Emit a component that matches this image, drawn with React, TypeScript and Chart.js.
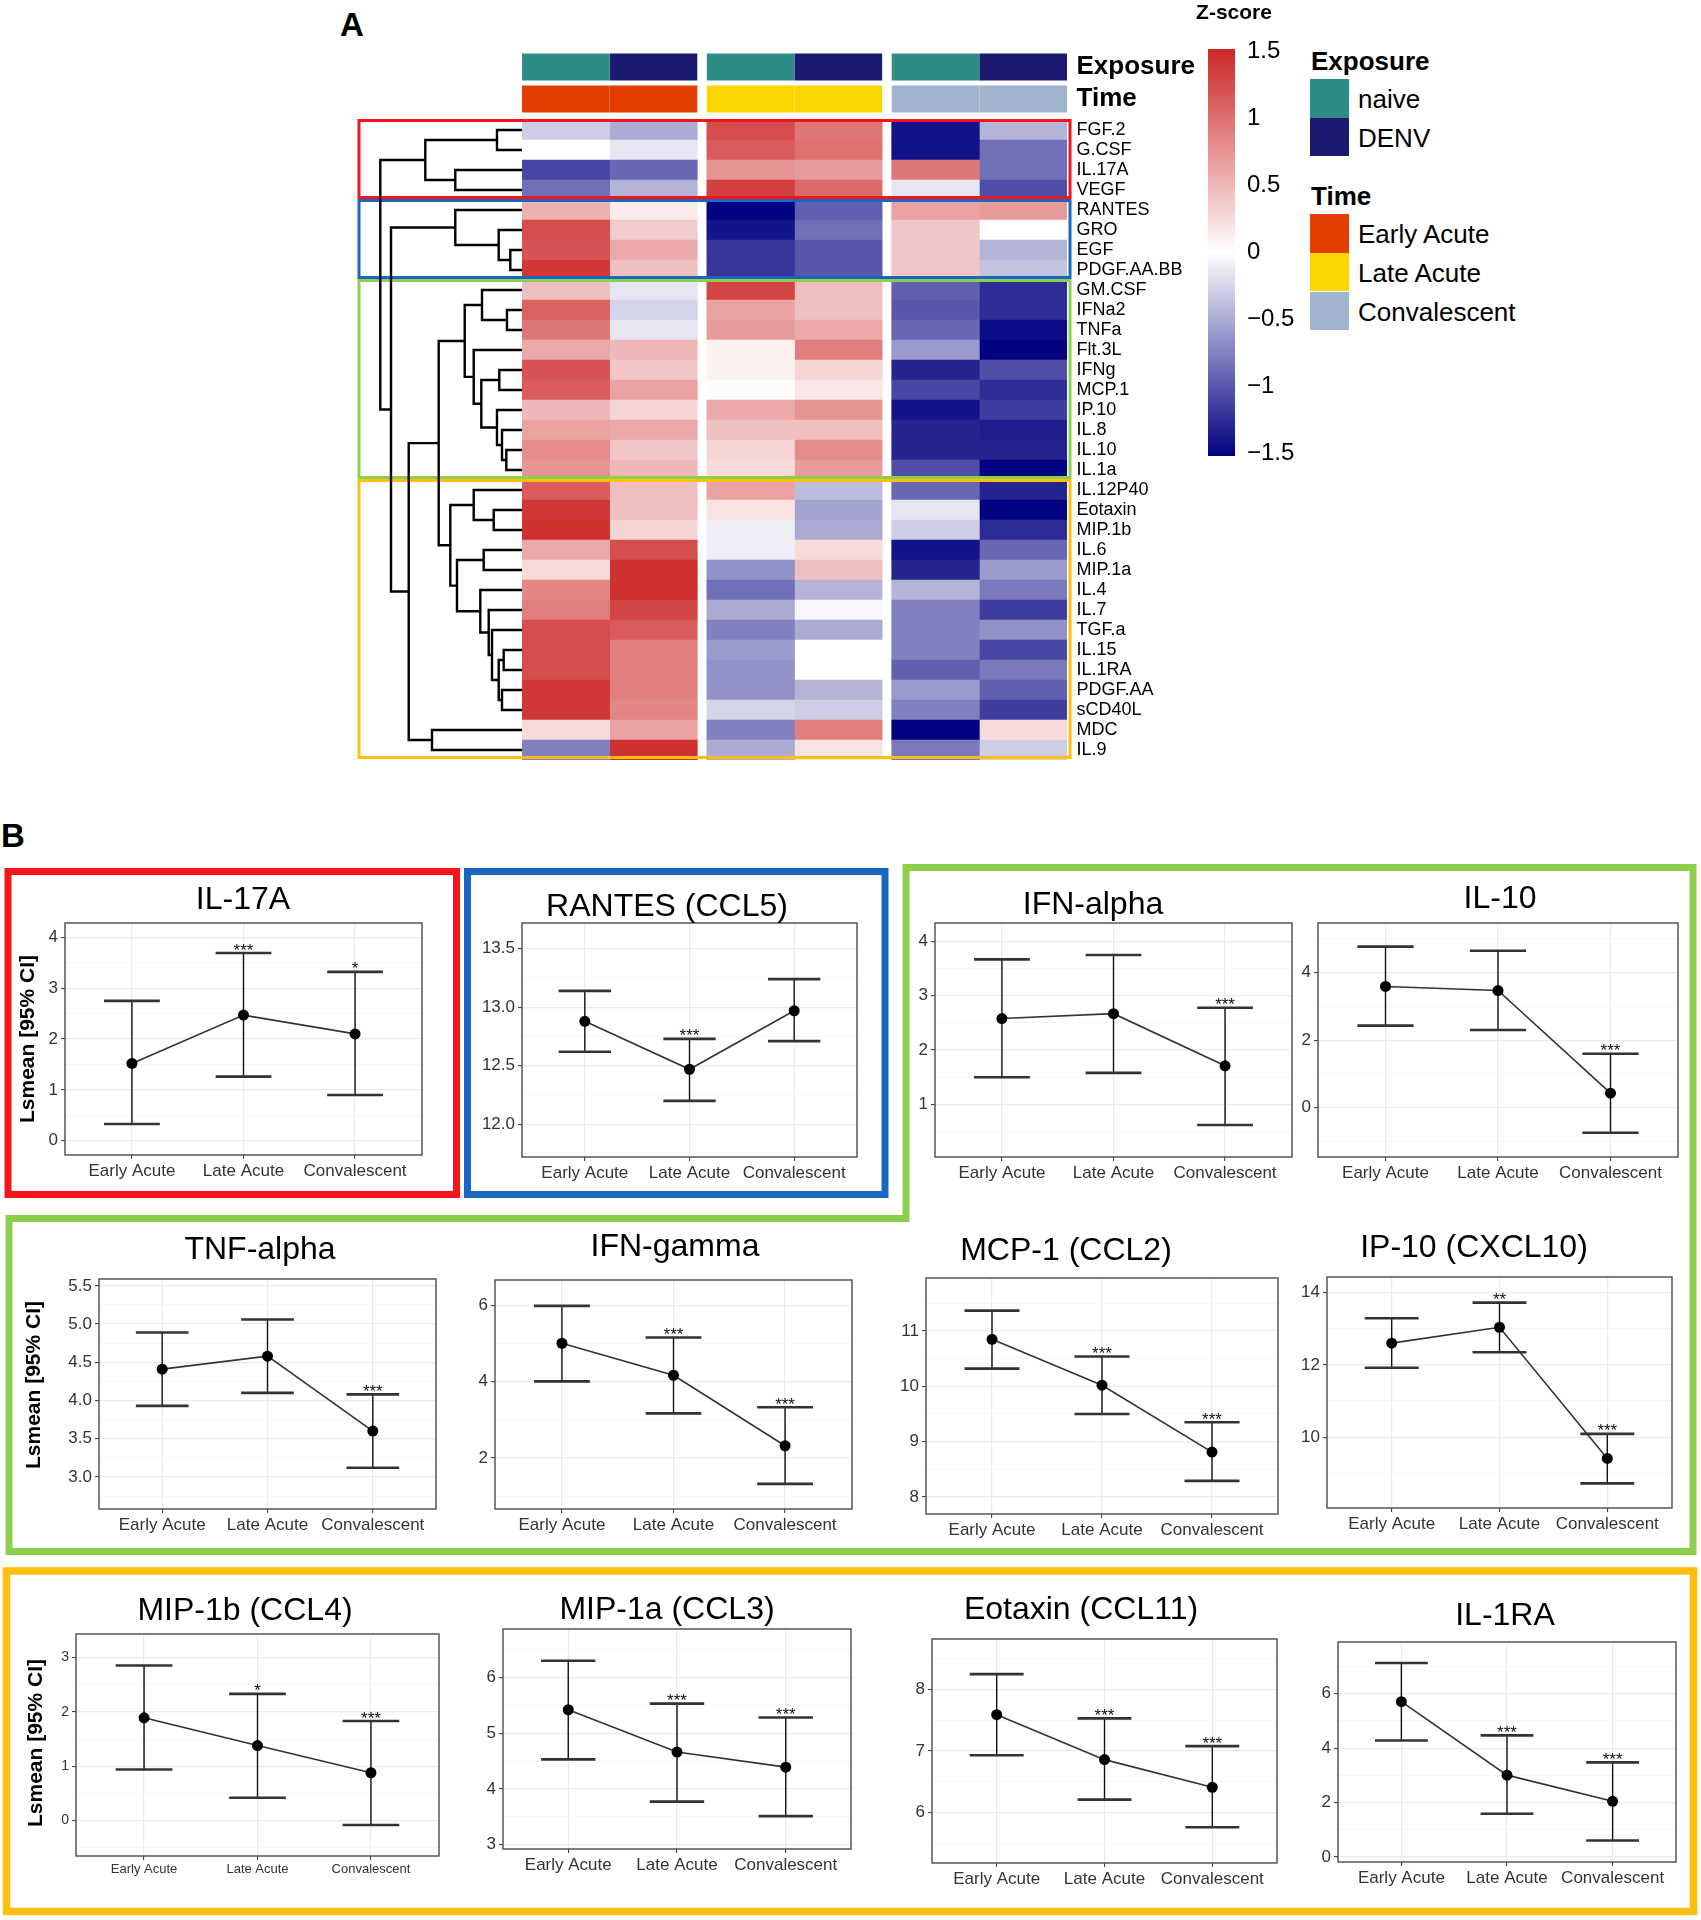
import React, { useEffect, useRef } from "react";
import { Chart, registerables } from "chart.js";
Chart.register(...registerables);

const FONT = "'Liberation Sans', Arial, sans-serif";
Chart.defaults.font.family = FONT;

// ---------------- Panel A data ----------------
const CYTOKINES = ["FGF.2", "G.CSF", "IL.17A", "VEGF", "RANTES", "GRO", "EGF", "PDGF.AA.BB", "GM.CSF", "IFNa2", "TNFa", "Flt.3L", "IFNg", "MCP.1", "IP.10", "IL.8", "IL.10", "IL.1a", "IL.12P40", "Eotaxin", "MIP.1b", "IL.6", "MIP.1a", "IL.4", "IL.7", "TGF.a", "IL.15", "IL.1RA", "PDGF.AA", "sCD40L", "MDC", "IL.9"];

const Z_EARLY_NAIVE = [-0.3, 0.0, -1.1, -0.85, 0.55, 1.25, 1.2, 1.4, 0.45, 1.1, 0.95, 0.6, 1.2, 1.15, 0.5, 0.65, 0.8, 0.75, 1.15, 1.4, 1.45, 0.6, 0.25, 0.85, 0.9, 1.25, 1.25, 1.25, 1.4, 1.4, 0.25, -0.75];
const Z_EARLY_DENV = [-0.5, -0.15, -0.9, -0.45, 0.15, 0.35, 0.6, 0.45, -0.15, -0.25, -0.15, 0.5, 0.4, 0.65, 0.3, 0.6, 0.4, 0.5, 0.45, 0.45, 0.3, 1.25, 1.45, 1.45, 1.3, 1.15, 0.9, 0.9, 0.9, 0.85, 0.65, 1.45];
const Z_LATE_NAIVE = [1.25, 1.15, 0.75, 1.35, -1.5, -1.4, -1.2, -1.2, 1.3, 0.65, 0.7, 0.1, 0.1, 0.03, 0.6, 0.45, 0.3, 0.25, 0.65, 0.2, -0.1, -0.1, -0.65, -0.85, -0.5, -0.75, -0.6, -0.65, -0.65, -0.25, -0.75, -0.5];
const Z_LATE_DENV = [0.95, 1.0, 0.7, 1.05, -0.95, -0.85, -1.0, -1.0, 0.45, 0.45, 0.6, 0.9, 0.3, 0.18, 0.75, 0.45, 0.8, 0.7, -0.4, -0.55, -0.5, 0.25, 0.45, -0.45, -0.05, -0.5, 0.0, 0.0, -0.45, -0.3, 0.9, 0.2];
const Z_CONV_NAIVE = [-1.4, -1.4, 0.95, -0.15, 0.65, 0.4, 0.4, 0.4, -0.95, -1.0, -0.9, -0.6, -1.3, -1.1, -1.4, -1.3, -1.3, -1.05, -0.9, -0.15, -0.3, -1.4, -1.3, -0.45, -0.75, -0.75, -0.75, -0.95, -0.6, -0.75, -1.5, -0.8];
const Z_CONV_DENV = [-0.45, -0.85, -0.85, -1.05, 0.7, 0.0, -0.45, -0.35, -1.25, -1.25, -1.45, -1.5, -1.05, -1.25, -1.15, -1.35, -1.3, -1.5, -1.3, -1.5, -1.25, -0.9, -0.6, -0.8, -1.15, -0.65, -1.1, -0.8, -0.95, -1.15, 0.25, -0.3];
const Z_COLUMNS = [Z_EARLY_NAIVE, Z_EARLY_DENV, Z_LATE_NAIVE, Z_LATE_DENV, Z_CONV_NAIVE, Z_CONV_DENV];

const COLUMN_EXPOSURE = ["naive", "DENV", "naive", "DENV", "naive", "DENV"];
const COLUMN_TIME = ["Early Acute", "Early Acute", "Late Acute", "Late Acute", "Convalescent", "Convalescent"];
const EXPOSURE_LEVELS = ["naive", "DENV"];
const TIME_LEVELS = ["Early Acute", "Late Acute", "Convalescent"];
const COLORBAR_TICKS = [1.5, 1, 0.5, 0, -0.5, -1, -1.5];

// dendrogram (leaf indices, merge height)
const TREE_RED = [[0, 1, 2.5], [2, 3, 6.67], 9.67];
const TREE_BLUE = [4, [5, [6, 7, 1.17], 2.33], 6.67];
const TREE_GREEN = [[8, [9, 10, 1.5], 4.0], [11, [[12, 13, 2.27], [14, [15, [16, 17, 1.57], 2.0], 2.5], 4.07], 4.83], 5.73];
const TREE_ORANGE = [[18, [19, 20, 2.83], 4.83], [[21, 22, 3.83], [23, [24, [25, [[26, 27, 1.83], [28, 29, 2.0], 2.33], 3.0], 3.33], 4.17], 6.5], 7.17];
const TREE_ROOT = [TREE_RED, [TREE_BLUE, [[TREE_GREEN, TREE_ORANGE, 8.33], [30, 31, 9.0], 11.33], 13.1], 14.17];

const CLUSTER_RED = "#F5141C";
const CLUSTER_BLUE = "#1A67C2";
const CLUSTER_GREEN = "#8CCF4C";
const CLUSTER_ORANGE = "#FFBF0F";
const CLUSTERS = [
  { from: 0, to: 3, color: CLUSTER_RED },
  { from: 4, to: 7, color: CLUSTER_BLUE },
  { from: 8, to: 17, color: CLUSTER_GREEN },
  { from: 18, to: 31, color: CLUSTER_ORANGE },
];

const EXPOSURE_COLORS: Record<string, string> = { naive: "#2E8B86", DENV: "#1A1A6E" };
const TIME_COLORS: Record<string, string> = { "Early Acute": "#E43D00", "Late Acute": "#FBD600", Convalescent: "#A2B4CD" };

// ---------------- Panel B data ----------------
const TIME_LABELS = ["Early Acute", "Late Acute", "Convalescent"];

const IL17A_MEAN = [1.52, 2.47, 2.1];
const IL17A_LO = [0.33, 1.26, 0.9];
const IL17A_HI = [2.75, 3.69, 3.32];
const IL17A_SIG = ["", "***", "*"];
const IL17A_TICKS = [0, 1, 2, 3, 4];

const RANTES_MEAN = [12.88, 12.47, 12.97];
const RANTES_LO = [12.62, 12.2, 12.71];
const RANTES_HI = [13.14, 12.73, 13.24];
const RANTES_SIG = ["", "***", ""];
const RANTES_TICKS = [12.0, 12.5, 13.0, 13.5];

const IFNA_MEAN = [2.58, 2.67, 1.71];
const IFNA_LO = [1.5, 1.58, 0.62];
const IFNA_HI = [3.67, 3.75, 2.78];
const IFNA_SIG = ["", "", "***"];
const IFNA_TICKS = [1, 2, 3, 4];

const IL10_MEAN = [3.59, 3.47, 0.43];
const IL10_LO = [2.43, 2.3, -0.74];
const IL10_HI = [4.77, 4.65, 1.6];
const IL10_SIG = ["", "", "***"];
const IL10_TICKS = [0, 2, 4];

const TNFA_MEAN = [4.41, 4.58, 3.6];
const TNFA_LO = [3.93, 4.1, 3.12];
const TNFA_HI = [4.89, 5.06, 4.08];
const TNFA_SIG = ["", "", "***"];
const TNFA_TICKS = [3.0, 3.5, 4.0, 4.5, 5.0, 5.5];

const IFNG_MEAN = [5.01, 4.17, 2.32];
const IFNG_LO = [4.01, 3.17, 1.32];
const IFNG_HI = [5.99, 5.16, 3.33];
const IFNG_SIG = ["", "***", "***"];
const IFNG_TICKS = [2, 4, 6];

const MCP1_MEAN = [10.85, 10.02, 8.81];
const MCP1_LO = [10.32, 9.5, 8.29];
const MCP1_HI = [11.37, 10.54, 9.35];
const MCP1_SIG = ["", "***", "***"];
const MCP1_TICKS = [8, 9, 10, 11];

const IP10_MEAN = [12.6, 13.04, 9.41];
const IP10_LO = [11.92, 12.35, 8.72];
const IP10_HI = [13.29, 13.72, 10.09];
const IP10_SIG = ["", "**", "***"];
const IP10_TICKS = [10, 12, 14];

const MIP1B_MEAN = [1.89, 1.38, 0.88];
const MIP1B_LO = [0.94, 0.42, -0.08];
const MIP1B_HI = [2.85, 2.33, 1.83];
const MIP1B_SIG = ["", "*", "***"];
const MIP1B_TICKS = [0, 1, 2, 3];

const MIP1A_MEAN = [5.42, 4.66, 4.39];
const MIP1A_LO = [4.53, 3.77, 3.51];
const MIP1A_HI = [6.3, 5.53, 5.28];
const MIP1A_SIG = ["", "***", "***"];
const MIP1A_TICKS = [3, 4, 5, 6];

const EOTAXIN_MEAN = [7.59, 6.86, 6.41];
const EOTAXIN_LO = [6.93, 6.21, 5.76];
const EOTAXIN_HI = [8.25, 7.53, 7.08];
const EOTAXIN_SIG = ["", "***", "***"];
const EOTAXIN_TICKS = [6, 7, 8];

const IL1RA_MEAN = [5.71, 3.01, 2.05];
const IL1RA_LO = [4.28, 1.59, 0.61];
const IL1RA_HI = [7.13, 4.47, 3.48];
const IL1RA_SIG = ["", "***", "***"];
const IL1RA_TICKS = [0, 2, 4, 6];

type PanelCfg = {
  title: string; tx: number; tb: number;
  x0: number; x1: number; y0: number; y1: number;
  yMin: number; yMax: number; ticks: number[]; dec: number;
  mean: number[]; lo: number[]; hi: number[]; sig: string[];
  xFont: number; yFont: number;
};

const PANELS: PanelCfg[] = [
  { title: "IL-17A", tx: 243, tb: 909, x0: 65, x1: 422, y0: 923, y1: 1155, yMin: -0.28, yMax: 4.28, ticks: IL17A_TICKS, dec: 0, mean: IL17A_MEAN, lo: IL17A_LO, hi: IL17A_HI, sig: IL17A_SIG, xFont: 17, yFont: 17 },
  { title: "RANTES (CCL5)", tx: 667, tb: 916, x0: 522, x1: 857, y0: 923, y1: 1157, yMin: 11.72, yMax: 13.72, ticks: RANTES_TICKS, dec: 1, mean: RANTES_MEAN, lo: RANTES_LO, hi: RANTES_HI, sig: RANTES_SIG, xFont: 17, yFont: 17 },
  { title: "IFN-alpha", tx: 1093, tb: 914, x0: 935, x1: 1292, y0: 923, y1: 1157, yMin: 0.03, yMax: 4.34, ticks: IFNA_TICKS, dec: 0, mean: IFNA_MEAN, lo: IFNA_LO, hi: IFNA_HI, sig: IFNA_SIG, xFont: 17, yFont: 17 },
  { title: "IL-10", tx: 1500, tb: 908, x0: 1318, x1: 1678, y0: 923, y1: 1157, yMin: -1.46, yMax: 5.47, ticks: IL10_TICKS, dec: 0, mean: IL10_MEAN, lo: IL10_LO, hi: IL10_HI, sig: IL10_SIG, xFont: 17, yFont: 17 },
  { title: "TNF-alpha", tx: 260, tb: 1259, x0: 99, x1: 436, y0: 1279, y1: 1509, yMin: 2.58, yMax: 5.59, ticks: TNFA_TICKS, dec: 1, mean: TNFA_MEAN, lo: TNFA_LO, hi: TNFA_HI, sig: TNFA_SIG, xFont: 17, yFont: 17 },
  { title: "IFN-gamma", tx: 675, tb: 1256, x0: 495, x1: 852, y0: 1280, y1: 1509, yMin: 0.66, yMax: 6.67, ticks: IFNG_TICKS, dec: 0, mean: IFNG_MEAN, lo: IFNG_LO, hi: IFNG_HI, sig: IFNG_SIG, xFont: 17, yFont: 17 },
  { title: "MCP-1 (CCL2)", tx: 1066, tb: 1260, x0: 926, x1: 1278, y0: 1278, y1: 1514, yMin: 7.69, yMax: 11.96, ticks: MCP1_TICKS, dec: 0, mean: MCP1_MEAN, lo: MCP1_LO, hi: MCP1_HI, sig: MCP1_SIG, xFont: 17, yFont: 17 },
  { title: "IP-10 (CXCL10)", tx: 1474, tb: 1257, x0: 1327, x1: 1672, y0: 1277, y1: 1508, yMin: 8.04, yMax: 14.43, ticks: IP10_TICKS, dec: 0, mean: IP10_MEAN, lo: IP10_LO, hi: IP10_HI, sig: IP10_SIG, xFont: 17, yFont: 17 },
  { title: "MIP-1b (CCL4)", tx: 245, tb: 1620, x0: 76, x1: 439, y0: 1634, y1: 1856, yMin: -0.65, yMax: 3.43, ticks: MIP1B_TICKS, dec: 0, mean: MIP1B_MEAN, lo: MIP1B_LO, hi: MIP1B_HI, sig: MIP1B_SIG, xFont: 13, yFont: 14 },
  { title: "MIP-1a (CCL3)", tx: 667, tb: 1619, x0: 503, x1: 851, y0: 1629, y1: 1849, yMin: 2.92, yMax: 6.87, ticks: MIP1A_TICKS, dec: 0, mean: MIP1A_MEAN, lo: MIP1A_LO, hi: MIP1A_HI, sig: MIP1A_SIG, xFont: 17, yFont: 17 },
  { title: "Eotaxin (CCL11)", tx: 1081, tb: 1619, x0: 932, x1: 1277, y0: 1639, y1: 1863, yMin: 5.18, yMax: 8.82, ticks: EOTAXIN_TICKS, dec: 0, mean: EOTAXIN_MEAN, lo: EOTAXIN_LO, hi: EOTAXIN_HI, sig: EOTAXIN_SIG, xFont: 17, yFont: 17 },
  { title: "IL-1RA", tx: 1505, tb: 1625, x0: 1338, x1: 1676, y0: 1642, y1: 1862, yMin: -0.18, yMax: 7.9, ticks: IL1RA_TICKS, dec: 0, mean: IL1RA_MEAN, lo: IL1RA_LO, hi: IL1RA_HI, sig: IL1RA_SIG, xFont: 17, yFont: 17 },
];

const Y_TITLES = [
  { cx: 26, cy: 1039 },
  { cx: 32, cy: 1385 },
  { cx: 34, cy: 1743 },
];

// ---------------- helpers ----------------
const Z_LIMIT = 1.52;
const LOW_RGB = [0, 0, 128];
const MID_RGB = [255, 255, 255];
const HIGH_RGB = [205, 38, 38];
function zToColor(z: number): string {
  const t = Math.max(-1, Math.min(1, z / Z_LIMIT));
  const end = t < 0 ? LOW_RGB : HIGH_RGB;
  const u = Math.abs(t);
  const c = MID_RGB.map((m, i) => Math.round(m + (end[i] - m) * u));
  return `rgb(${c[0]},${c[1]},${c[2]})`;
}

const GROUP_GAP = 0.109;
const X_TOTAL = 6 + 2 * GROUP_GAP;
const colX0 = (c: number) => c + Math.floor(c / 2) * GROUP_GAP;

function ChartCanvas({ left, top, width, height, make }: { left: number; top: number; width: number; height: number; make: () => any }) {
  const ref = useRef<HTMLCanvasElement | null>(null);
  useEffect(() => {
    const chart = new Chart(ref.current as HTMLCanvasElement, make());
    return () => chart.destroy();
  }, []);
  return <canvas ref={ref} width={width} height={height} style={{ position: "absolute", left, top, width, height }} />;
}

function Txt({ x, base, size, bold, align, children, color }: { x: number; base: number; size: number; bold?: boolean; align?: "left" | "center"; children: any; color?: string }) {
  return (
    <div
      style={{
        position: "absolute",
        left: x,
        top: base - 0.8465 * size,
        fontFamily: FONT,
        fontSize: size,
        lineHeight: 1,
        fontWeight: bold ? 700 : 400,
        whiteSpace: "nowrap",
        color: color || "#000",
        transform: align === "center" ? "translateX(-50%)" : undefined,
      }}
    >
      {children}
    </div>
  );
}

// ---------------- Panel A charts ----------------
const HM_LEFT = 355, HM_TOP = 95, HM_PADL = 167, HM_PADT = 25, HM_PADB = 24;
const HM_W = 845, HM_H = HM_PADT + 640 + HM_PADB;

function makeHeatmap() {
  const clusterBoxes = {
    id: "clusterBoxes",
    afterDatasetsDraw(chart: any) {
      const { ctx, chartArea: a, scales } = chart;
      const y = scales.y;
      const half = (y.getPixelForValue(1) - y.getPixelForValue(0)) / 2;
      ctx.save();
      ctx.lineWidth = 3;
      CLUSTERS.forEach((cl) => {
        const t = y.getPixelForValue(cl.from) - half + 0.5;
        const b = y.getPixelForValue(cl.to) + half - 2.5;
        const l = a.left - 163;
        const r = a.right + 3;
        ctx.strokeStyle = cl.color;
        ctx.strokeRect(l, t, r - l, b - t);
      });
      ctx.restore();
    },
  };
  return {
    type: "bar",
    data: {
      labels: CYTOKINES,
      datasets: Z_COLUMNS.map((col, c) => ({
        data: CYTOKINES.map(() => [colX0(c), colX0(c) + 1]),
        backgroundColor: col.map(zToColor),
        borderWidth: 0,
        grouped: false,
        barPercentage: 1,
        categoryPercentage: 1,
      })),
    },
    options: {
      indexAxis: "y",
      animation: false,
      responsive: false,
      layout: { padding: { left: HM_PADL, top: HM_PADT, right: 0, bottom: HM_PADB } },
      plugins: { legend: { display: false }, tooltip: { enabled: false } },
      scales: {
        x: { type: "linear", min: 0, max: X_TOTAL, display: false },
        y: {
          type: "category",
          position: "right",
          grid: { display: false, drawTicks: false },
          border: { display: false },
          ticks: { font: { family: FONT, size: 18 }, color: "#000", padding: 9.5, autoSkip: false },
          afterFit: (s: any) => { s.width = HM_W - HM_PADL - 545; },
        },
      },
    },
    plugins: [clusterBoxes],
  };
}

const AN_LEFT = 510, AN_TOP = 25, AN_PADT = 26, AN_PADB = 28;
const AN_W = 700, AN_H = AN_PADT + 64 + AN_PADB;
function makeAnnotation() {
  return {
    type: "bar",
    data: {
      labels: ["Exposure", "Time"],
      datasets: COLUMN_EXPOSURE.map((e, c) => ({
        data: [[colX0(c), colX0(c) + 1], [colX0(c), colX0(c) + 1]],
        backgroundColor: [EXPOSURE_COLORS[e], TIME_COLORS[COLUMN_TIME[c]]],
        borderWidth: 0,
        grouped: false,
        barPercentage: 0.844,
        categoryPercentage: 1,
      })),
    },
    options: {
      indexAxis: "y",
      animation: false,
      responsive: false,
      layout: { padding: { left: 12, top: AN_PADT, right: 0, bottom: AN_PADB } },
      plugins: { legend: { display: false }, tooltip: { enabled: false } },
      scales: {
        x: { type: "linear", min: 0, max: X_TOTAL, display: false },
        y: {
          type: "category",
          position: "right",
          grid: { display: false, drawTicks: false },
          border: { display: false },
          ticks: { font: { family: FONT, size: 26, weight: "bold" }, color: "#000", padding: 9.5, autoSkip: false },
          afterFit: (s: any) => { s.width = AN_W - 12 - 545; },
        },
      },
    },
  };
}

const DG_LEFT = 370, DG_TOP = 120, DG_W = 152, DG_H = 640;
function makeDendro() {
  const segs: any[] = [];
  const walk = (node: any): { y: number; h: number } => {
    if (typeof node === "number") return { y: node, h: 0 };
    const a = walk(node[0]);
    const b = walk(node[1]);
    const h = node[2];
    segs.push([{ x: a.h, y: a.y }, { x: h, y: a.y }, { x: h, y: b.y }, { x: b.h, y: b.y }]);
    return { y: (a.y + b.y) / 2, h };
  };
  walk(TREE_ROOT);
  return {
    type: "scatter",
    data: {
      datasets: segs.map((s) => ({
        data: s,
        showLine: true,
        borderColor: "#000",
        borderWidth: 2.4,
        pointRadius: 0,
        tension: 0,
        clip: 4,
      })),
    },
    options: {
      animation: false,
      responsive: false,
      layout: { padding: 0 },
      plugins: { legend: { display: false }, tooltip: { enabled: false } },
      scales: {
        x: { type: "linear", min: 0, max: DG_W / 10, reverse: true, display: false },
        y: { type: "linear", min: -0.5, max: CYTOKINES.length - 0.5, reverse: true, display: false },
      },
    },
  };
}

const CB_LEFT = 1197, CB_TOP = 19, CB_PADT = 30, CB_PADB = 30;
const CB_W = 108, CB_H = CB_PADT + 407 + CB_PADB;
function makeColorbar() {
  return {
    type: "bar",
    data: {
      labels: ["z"],
      datasets: [
        {
          data: [[-Z_LIMIT, Z_LIMIT]],
          borderWidth: 0,
          barPercentage: 1,
          categoryPercentage: 1,
          backgroundColor: (ctx: any) => {
            const chart = ctx.chart;
            const { chartArea, scales } = chart;
            if (!chartArea || !scales.y) return "#fff";
            const y0 = scales.y.getPixelForValue(-Z_LIMIT);
            const y1 = scales.y.getPixelForValue(Z_LIMIT);
            const g = chart.ctx.createLinearGradient(0, y0, 0, y1);
            for (let k = 0; k <= 40; k++) {
              g.addColorStop(k / 40, zToColor(-Z_LIMIT + (2 * Z_LIMIT * k) / 40));
            }
            return g;
          },
        },
      ],
    },
    options: {
      animation: false,
      responsive: false,
      layout: { padding: { left: 11, top: CB_PADT, right: 0, bottom: CB_PADB } },
      plugins: { legend: { display: false }, tooltip: { enabled: false } },
      scales: {
        x: { display: false },
        y: {
          type: "linear",
          min: -Z_LIMIT,
          max: Z_LIMIT,
          position: "right",
          afterBuildTicks: (s: any) => { s.ticks = COLORBAR_TICKS.map((v) => ({ value: v })); },
          grid: { display: false, drawTicks: false },
          border: { display: false },
          ticks: {
            font: { family: FONT, size: 24 },
            color: "#000",
            padding: 12,
            autoSkip: false,
            callback: (v: number) => String(v).replace("-", "\u2212"),
          },
          afterFit: (s: any) => { s.width = CB_W - 11 - 27; },
        },
      },
    },
  };
}

// ---------------- Panel B charts ----------------
const CAP_HALF = 0.25;
const PAD_L = 70, PAD_T = 20, PAD_R = 10, PAD_B = 50;

function makeLsChart(p: PanelCfg) {
  const step = p.ticks[1] - p.ticks[0];
  const gridVals: number[] = [];
  for (let v = p.ticks[0] - step / 2; v <= p.ticks[p.ticks.length - 1] + step / 2 + 1e-9; v += step / 2) {
    if (v >= p.yMin && v <= p.yMax) gridVals.push(+v.toFixed(4));
  }
  const isMajor = (v: number) => p.ticks.some((t) => Math.abs(t - v) < 1e-6);

  const errorBars = {
    id: "errorBars",
    beforeDatasetsDraw(chart: any) {
      const { ctx, scales } = chart;
      const x = scales.x, y = scales.y;
      ctx.save();
      p.mean.forEach((_, i) => {
        const px = x.getPixelForValue(i);
        const yl = y.getPixelForValue(p.lo[i]);
        const yh = y.getPixelForValue(p.hi[i]);
        const hw = x.getPixelForValue(i + CAP_HALF) - px;
        ctx.strokeStyle = "#111";
        ctx.lineWidth = 1.4;
        ctx.beginPath();
        ctx.moveTo(px, yl);
        ctx.lineTo(px, yh);
        ctx.stroke();
        ctx.strokeStyle = "#333";
        ctx.lineWidth = 2.6;
        ctx.beginPath();
        ctx.moveTo(px - hw, yh);
        ctx.lineTo(px + hw, yh);
        ctx.moveTo(px - hw, yl);
        ctx.lineTo(px + hw, yl);
        ctx.stroke();
        if (p.sig[i]) {
          ctx.fillStyle = "#111";
          ctx.font = `17px ${FONT}`;
          ctx.textAlign = "center";
          ctx.textBaseline = "alphabetic";
          ctx.fillText(p.sig[i], px, yh + 2.5);
        }
      });
      ctx.restore();
    },
  };
  const frame = {
    id: "frame",
    afterDraw(chart: any) {
      const { ctx, chartArea: a } = chart;
      ctx.save();
      ctx.strokeStyle = "#4a4a4a";
      ctx.lineWidth = 1.4;
      ctx.strokeRect(a.left, a.top, a.right - a.left, a.bottom - a.top);
      ctx.restore();
    },
  };

  return {
    type: "line",
    data: {
      datasets: [
        {
          data: p.mean.map((v, i) => ({ x: i, y: v })),
          borderColor: "#333",
          borderWidth: 1.6,
          pointRadius: 5.5,
          pointBackgroundColor: "#000",
          pointBorderColor: "#000",
          pointBorderWidth: 0,
          tension: 0,
        },
      ],
    },
    options: {
      animation: false,
      responsive: false,
      layout: { padding: { left: 0, top: PAD_T, right: PAD_R, bottom: 0 } },
      plugins: { legend: { display: false }, tooltip: { enabled: false } },
      scales: {
        x: {
          type: "linear",
          min: -0.6,
          max: 2.6,
          afterBuildTicks: (s: any) => { s.ticks = TIME_LABELS.map((_, i) => ({ value: i })); },
          ticks: {
            callback: (v: number) => TIME_LABELS[v],
            font: { family: FONT, size: p.xFont },
            color: "#333",
            padding: 2,
            maxRotation: 0,
            autoSkip: false,
          },
          grid: { color: "#EBEBEB", lineWidth: 1.2, tickColor: "#333", tickLength: 4, tickWidth: 1 },
          border: { display: false },
          afterFit: (s: any) => { s.height = PAD_B; },
        },
        y: {
          type: "linear",
          min: p.yMin,
          max: p.yMax,
          afterBuildTicks: (s: any) => { s.ticks = gridVals.map((v) => ({ value: v })); },
          ticks: {
            callback: (v: number) => (isMajor(v) ? v.toFixed(p.dec) : ""),
            font: { family: FONT, size: p.yFont },
            color: "#333",
            padding: 3,
            autoSkip: false,
          },
          grid: {
            color: (c: any) => (isMajor(c.tick.value) ? "#EBEBEB" : "#F5F5F5"),
            lineWidth: (c: any) => (isMajor(c.tick.value) ? 1.2 : 0.8),
            tickColor: (c: any) => (isMajor(c.tick.value) ? "#333" : "rgba(0,0,0,0)"),
            tickLength: 4,
            tickWidth: 1,
          },
          border: { display: false },
          afterFit: (s: any) => { s.width = PAD_L; },
        },
      },
    },
    plugins: [errorBars, frame],
  };
}

function LsPanel({ p }: { p: PanelCfg }) {
  const x0 = Math.round(p.x0), y0 = Math.round(p.y0);
  const w = Math.round(p.x1 - p.x0) + PAD_L + PAD_R;
  const h = Math.round(p.y1 - p.y0) + PAD_T + PAD_B;
  return (
    <>
      <ChartCanvas left={x0 - PAD_L} top={y0 - PAD_T} width={w} height={h} make={() => makeLsChart(p)} />
      <Txt x={p.tx} base={p.tb} size={32} align="center">{p.title}</Txt>
    </>
  );
}

export default function App() {
  return (
    <div style={{ position: "absolute", left: 0, top: 0, width: 1701, height: 1920, background: "#fff", overflow: "hidden" }}>
      {/* Panel B outline boxes */}
      <svg width={1701} height={1920} style={{ position: "absolute", left: 0, top: 0 }}>
        <rect x={8} y={871.5} width={448.5} height={323} fill="none" stroke={CLUSTER_RED} strokeWidth={7} />
        <rect x={467.5} y={871.5} width={417.5} height={323} fill="none" stroke={CLUSTER_BLUE} strokeWidth={7} />
        <path d="M 906 867.5 H 1693 V 1551.5 H 9 V 1218.5 H 906 Z" fill="none" stroke={CLUSTER_GREEN} strokeWidth={7} />
        <rect x={6.5} y={1571} width={1687} height={340.5} fill="none" stroke={CLUSTER_ORANGE} strokeWidth={7.5} />
      </svg>

      {/* Panel A */}
      <ChartCanvas left={HM_LEFT} top={HM_TOP} width={HM_W} height={HM_H} make={makeHeatmap} />
      <ChartCanvas left={DG_LEFT} top={DG_TOP} width={DG_W} height={DG_H} make={makeDendro} />
      <ChartCanvas left={AN_LEFT} top={AN_TOP} width={AN_W} height={AN_H} make={makeAnnotation} />
      <ChartCanvas left={CB_LEFT} top={CB_TOP} width={CB_W} height={CB_H} make={makeColorbar} />

      <Txt x={340} base={36} size={33} bold>A</Txt>
      <Txt x={1234} base={19} size={21} bold align="center">Z-score</Txt>

      <Txt x={1311} base={70} size={26} bold>Exposure</Txt>
      {EXPOSURE_LEVELS.map((e, i) => (
        <React.Fragment key={e}>
          <div style={{ position: "absolute", left: 1310, top: 79 + i * 38.5, width: 39, height: 38.5, background: EXPOSURE_COLORS[e] }} />
          <Txt x={1358} base={108 + i * 39} size={26}>{e}</Txt>
        </React.Fragment>
      ))}
      <Txt x={1311} base={205} size={26} bold>Time</Txt>
      {TIME_LEVELS.map((t, i) => (
        <React.Fragment key={t}>
          <div style={{ position: "absolute", left: 1310, top: 214.3 + i * 38.6, width: 39, height: 38.6, background: TIME_COLORS[t] }} />
          <Txt x={1358} base={243.3 + i * 38.7} size={26}>{t}</Txt>
        </React.Fragment>
      ))}

      {/* Panel B */}
      <Txt x={1} base={847} size={33} bold>B</Txt>
      {PANELS.map((p) => (
        <LsPanel key={p.title} p={p} />
      ))}
      {Y_TITLES.map((t, i) => (
        <div
          key={i}
          style={{
            position: "absolute",
            left: t.cx,
            top: t.cy,
            fontFamily: FONT,
            fontSize: 21,
            fontWeight: 700,
            lineHeight: 1,
            whiteSpace: "nowrap",
            transform: "translate(-50%, -50%) rotate(-90deg)",
          }}
        >
          Lsmean [95% CI]
        </div>
      ))}
    </div>
  );
}
